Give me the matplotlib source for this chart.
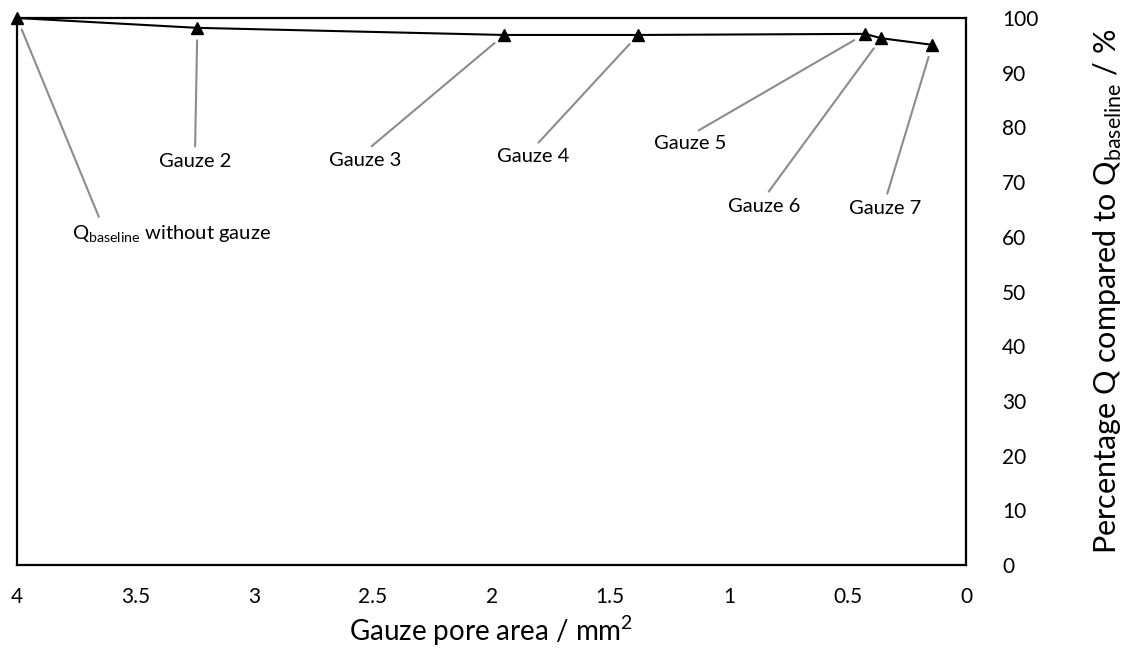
import matplotlib.pyplot as plt

plt.rcParams['font.family'] = ['Lato', 'DejaVu Sans']
plt.rcParams['mathtext.fontset'] = 'custom'
plt.rcParams['mathtext.rm'] = 'Lato'

# data
pore_area = [4.0, 3.24, 1.947, 1.383, 0.426, 0.358, 0.143]
percent_q = [100.0, 98.2, 96.9, 96.9, 97.1, 96.3, 95.1]
labels = [r'Q$_\mathregular{baseline}$ without gauze', 'Gauze 2', 'Gauze 3',
          'Gauze 4', 'Gauze 5', 'Gauze 6', 'Gauze 7']
# where each label sits (data coords) and where its leader line meets the text
label_x = [3.35, 3.25, 2.533, 1.825, 1.163, 0.851, 0.341]
label_y = [60.5, 73.7, 74.0, 74.6, 77.0, 65.6, 65.1]
rel_x = [0.15, 0.5, 0.5, 0.5, 0.5, 0.5, 0.5]

x_ticks = [4, 3.5, 3, 2.5, 2, 1.5, 1, 0.5, 0]
x_tick_labels = ['4', '3.5', '3', '2.5', '2', '1.5', '1', '0.5', '0']
y_ticks = list(range(0, 101, 10))

fig = plt.figure(figsize=(11.34, 6.62), dpi=100)
ax = fig.add_axes([0.015, 0.1465, 0.837, 0.8263])

ax.plot(pore_area, percent_q, color='black', lw=1.5, marker='^',
        markersize=8, clip_on=False, zorder=3)

for i in range(len(labels)):
    ax.annotate(labels[i], xy=(pore_area[i], percent_q[i]),
                xytext=(label_x[i], label_y[i]), ha='center', va='center',
                fontsize=14.5,
                arrowprops=dict(arrowstyle='-', color='#8c8c8c', lw=1.5,
                                shrinkA=3, shrinkB=9, relpos=(rel_x[i], 1.0)))

ax.set_xlim(4, 0)
ax.set_ylim(0, 100)
ax.set_xticks(x_ticks)
ax.set_xticklabels(x_tick_labels)
ax.set_yticks(y_ticks)
ax.yaxis.tick_right()
ax.yaxis.set_label_position('right')
ax.tick_params(axis='x', length=0, pad=16, labelsize=15)
ax.tick_params(axis='y', length=0, pad=26, labelsize=15)
for t in ax.get_yticklabels():
    t.set_ha('left')
for s in ax.spines.values():
    s.set_linewidth(1.6)
    s.set_color('black')

ax.set_xlabel('Gauze pore area / mm$^2$', fontsize=20, labelpad=4)
ax.set_ylabel(r'Percentage Q compared to Q$_\mathregular{baseline}$ / %',
              fontsize=22, labelpad=38)

fig.savefig('out.png', dpi=100)
